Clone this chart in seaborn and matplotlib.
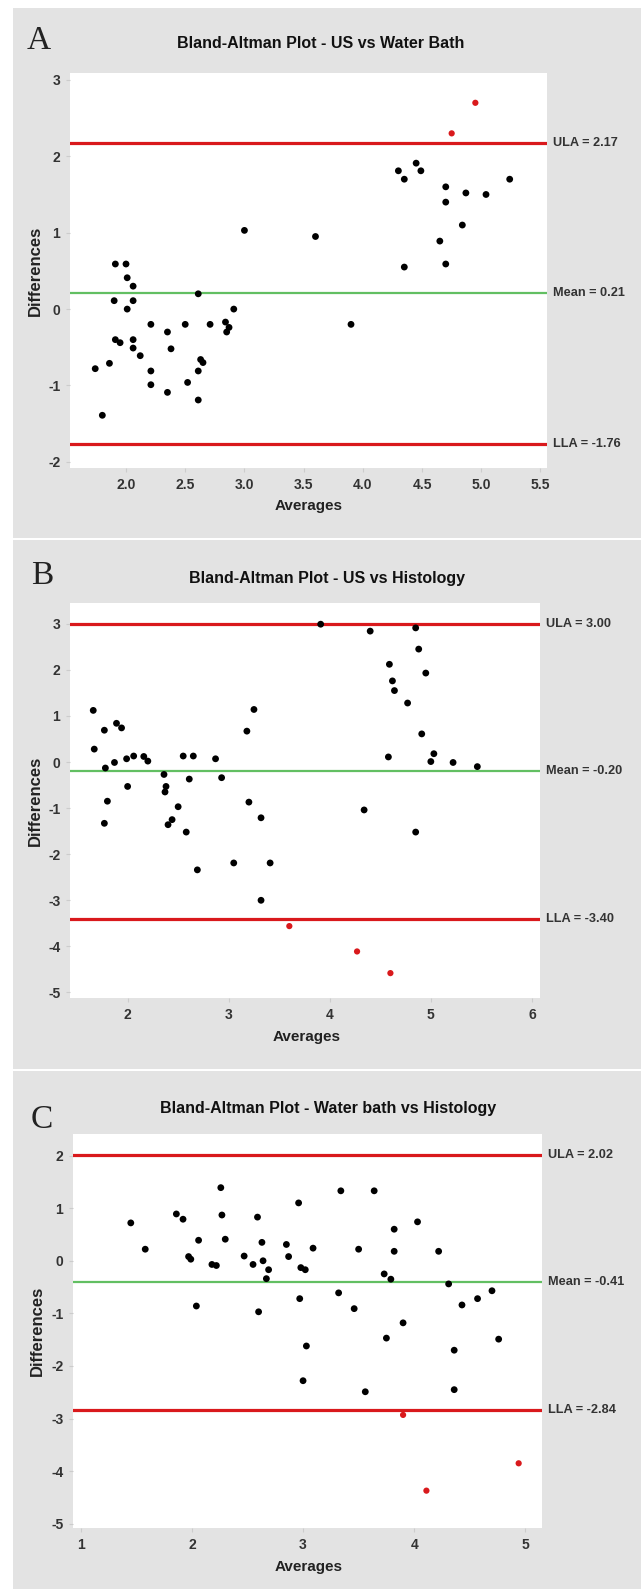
import numpy as np
import pandas as pd
import matplotlib
matplotlib.use('Agg')
import matplotlib.pyplot as plt
import seaborn as sns
from matplotlib.patches import Rectangle

# Panel A - US vs Water Bath
a_avg = [4.30, 4.35, 4.45, 4.49, 4.70, 4.70, 4.87, 5.04, 5.24, 4.84, 4.65, 4.70, 4.35,
         3.00, 3.60, 3.90, 1.91, 2.00, 2.01, 2.06, 2.61, 1.90, 2.06, 2.01, 2.91, 2.21,
         2.50, 2.71, 2.84, 2.87, 2.85, 2.35, 1.91, 1.95, 2.06, 2.06, 2.38, 2.12, 2.63,
         2.65, 1.86, 1.74, 2.21, 2.61, 2.21, 2.52, 2.35, 2.61, 1.80]
a_diff = [1.81, 1.70, 1.91, 1.81, 1.60, 1.40, 1.52, 1.50, 1.70, 1.10, 0.89, 0.59, 0.55,
          1.03, 0.95, -0.20, 0.59, 0.59, 0.41, 0.30, 0.20, 0.11, 0.11, 0.00, 0.00, -0.20,
          -0.20, -0.20, -0.17, -0.24, -0.30, -0.30, -0.40, -0.44, -0.40, -0.51, -0.52, -0.61, -0.66,
          -0.70, -0.71, -0.78, -0.81, -0.81, -0.99, -0.96, -1.09, -1.19, -1.39]
a_out_avg = [4.95, 4.75]
a_out_diff = [2.70, 2.30]
a_lines = [2.17, 0.21, -1.76]

# Panel B - US vs Histology
b_avg = [3.91, 4.40, 4.85, 4.88, 4.59, 4.95, 4.62, 4.64, 4.77, 1.66, 3.25, 1.77, 1.89,
         1.94, 3.18, 4.91, 1.67, 4.58, 5.03, 2.06, 2.16, 2.55, 2.65, 1.99, 2.87, 1.87,
         2.20, 5.00, 5.22, 5.46, 1.78, 2.36, 2.61, 2.93, 2.00, 2.38, 2.37, 1.80, 3.20,
         2.50, 4.34, 3.32, 2.44, 2.40, 1.77, 2.58, 4.85, 3.05, 3.41, 2.69, 3.32]
b_diff = [2.99, 2.84, 2.91, 2.45, 2.12, 1.93, 1.76, 1.55, 1.28, 1.12, 1.14, 0.69, 0.84,
          0.74, 0.67, 0.61, 0.28, 0.11, 0.18, 0.13, 0.12, 0.13, 0.13, 0.07, 0.07, -0.01,
          0.02, 0.01, -0.01, -0.10, -0.13, -0.27, -0.37, -0.34, -0.53, -0.53, -0.65, -0.85, -0.87,
          -0.97, -1.04, -1.21, -1.25, -1.36, -1.33, -1.52, -1.52, -2.19, -2.19, -2.34, -3.00]
b_out_avg = [3.60, 4.27, 4.60]
b_out_diff = [-3.56, -4.11, -4.58]
b_lines = [3.00, -0.20, -3.40]

# Panel C - Water bath vs Histology
c_avg = [2.26, 3.34, 3.64, 2.96, 1.86, 1.92, 2.27, 2.59, 1.45, 4.03, 3.82, 2.06, 2.30,
         2.63, 2.85, 3.09, 1.58, 3.50, 3.82, 4.22, 1.97, 1.99, 2.47, 2.87, 2.64, 2.18,
         2.22, 2.55, 2.98, 3.02, 2.69, 2.67, 3.73, 3.79, 4.31, 4.70, 3.32, 2.97, 4.57,
         2.04, 4.43, 3.46, 2.60, 3.90, 3.75, 4.76, 3.03, 4.36, 3.00, 3.56, 4.36]
c_diff = [1.39, 1.33, 1.33, 1.10, 0.89, 0.79, 0.87, 0.83, 0.72, 0.74, 0.60, 0.39, 0.41,
          0.35, 0.31, 0.24, 0.22, 0.22, 0.18, 0.18, 0.08, 0.03, 0.09, 0.08, 0.00, -0.07,
          -0.09, -0.07, -0.13, -0.17, -0.17, -0.34, -0.25, -0.35, -0.44, -0.57, -0.61, -0.72, -0.72,
          -0.86, -0.84, -0.91, -0.97, -1.18, -1.47, -1.49, -1.62, -1.70, -2.28, -2.49, -2.45]
c_out_avg = [3.90, 4.11, 4.94]
c_out_diff = [-2.93, -4.37, -3.85]
c_lines = [2.02, -0.41, -2.84]

W, H = 641, 1589
FONT = ['Liberation Sans', 'DejaVu Sans']
GREY_BG = '#e3e3e3'
RED = '#d9191c'
GREEN = '#62bf62'

fig = plt.figure(figsize=(W / 100, H / 100), dpi=100)
fig.patch.set_facecolor('white')


def fx(px):
    return px / W


def fy(py):
    return 1 - py / H


# grey panel backgrounds with thin white gaps between them
for top, bottom in [(8, 537.5), (539.5, 1068.5), (1070.5, 1589)]:
    fig.patches.append(Rectangle((fx(13), fy(bottom)), 1 - fx(13), (bottom - top) / H,
                                 transform=fig.transFigure, facecolor=GREY_BG,
                                 edgecolor='none', zorder=-5))

panels = [
    dict(letter='A', title='Bland-Altman Plot - US vs Water Bath',
         avg=a_avg, diff=a_diff, out_avg=a_out_avg, out_diff=a_out_diff, lines=a_lines,
         box=(70, 547, 73, 468), xlim=(1.527, 5.555), ylim=(-2.08, 3.09),
         xticks=[2.0, 2.5, 3.0, 3.5, 4.0, 4.5, 5.0, 5.5], xfmt='{:.1f}',
         yticks=[-2, -1, 0, 1, 2, 3],
         letter_xy=(39, 41), title_xy=(321, 43), xlab_xy=(309, 506), ylab_x=35),
    dict(letter='B', title='Bland-Altman Plot - US vs Histology',
         avg=b_avg, diff=b_diff, out_avg=b_out_avg, out_diff=b_out_diff, lines=b_lines,
         box=(70, 540, 603, 998), xlim=(1.43, 6.08), ylim=(-5.12, 3.45),
         xticks=[2, 3, 4, 5, 6], xfmt='{:.0f}',
         yticks=[-5, -4, -3, -2, -1, 0, 1, 2, 3],
         letter_xy=(42, 576), title_xy=(327, 579), xlab_xy=(307, 1037), ylab_x=35),
    dict(letter='C', title='Bland-Altman Plot - Water bath vs Histology',
         avg=c_avg, diff=c_diff, out_avg=c_out_avg, out_diff=c_out_diff, lines=c_lines,
         box=(73, 542, 1134, 1528), xlim=(0.93, 5.15), ylim=(-5.08, 2.41),
         xticks=[1, 2, 3, 4, 5], xfmt='{:.0f}',
         yticks=[-5, -4, -3, -2, -1, 0, 1, 2],
         letter_xy=(42, 1120), title_xy=(328, 1109), xlab_xy=(309, 1567), ylab_x=37),
]

for p in panels:
    left, right, top, bottom = p['box']
    ax = fig.add_axes([fx(left), fy(bottom), (right - left) / W, (bottom - top) / H])
    ax.set_facecolor('white')
    for s in ax.spines.values():
        s.set_visible(False)

    df = pd.DataFrame({'avg': p['avg'], 'diff': p['diff']})
    out = pd.DataFrame({'avg': p['out_avg'], 'diff': p['out_diff']})
    sns.scatterplot(data=df, x='avg', y='diff', ax=ax, color='black', s=24,
                    edgecolor='none', zorder=3)
    sns.scatterplot(data=out, x='avg', y='diff', ax=ax, color=RED, s=20,
                    edgecolor='none', zorder=3)

    ula, mean, lla = p['lines']
    ax.axhline(ula, color=RED, lw=2.3, zorder=2)
    ax.axhline(mean, color=GREEN, lw=1.6, zorder=2)
    ax.axhline(lla, color=RED, lw=2.3, zorder=2)

    ax.set_xlim(*p['xlim'])
    ax.set_ylim(*p['ylim'])
    ax.set_xticks(p['xticks'])
    ax.set_xticklabels([p['xfmt'].format(t) for t in p['xticks']])
    ax.set_yticks(p['yticks'])
    ax.set_yticklabels([str(t) for t in p['yticks']])
    ax.tick_params(length=3, width=0.8, color='#cccccc', labelcolor='#333333',
                   labelsize=10, pad=4)
    for lab in ax.get_xticklabels() + ax.get_yticklabels():
        lab.set_family(FONT)
        lab.set_fontweight('bold')
    ax.set_xlabel('')
    ax.set_ylabel('')

    # limit labels to the right of the plot area
    for val, name in zip(p['lines'], ['ULA', 'Mean', 'LLA']):
        ax.annotate(f'{name} = {val:.2f}', xy=(1, val), xycoords=('axes fraction', 'data'),
                    xytext=(4, 0), textcoords='offset points', va='center', ha='left',
                    fontsize=9.2, fontweight='bold', color='#333333', family=FONT)

    lx, ly = p['letter_xy']
    fig.text(fx(lx), fy(ly), p['letter'], family=['Liberation Serif', 'DejaVu Serif'],
             fontsize=24, ha='center', va='center', color='#222222')
    tx, ty = p['title_xy']
    fig.text(fx(tx), fy(ty), p['title'], family=FONT, fontsize=11.5, fontweight='bold',
             ha='center', va='center', color='#111111')
    xx, xy = p['xlab_xy']
    fig.text(fx(xx), fy(xy), 'Averages', family=FONT, fontsize=11, fontweight='bold',
             ha='center', va='center', color='#222222')
    fig.text(fx(p['ylab_x']), fy((top + bottom) / 2), 'Differences', family=FONT,
             fontsize=12, fontweight='bold', rotation=90, ha='center', va='center',
             color='#222222')

fig.savefig('out.png', dpi=100)
